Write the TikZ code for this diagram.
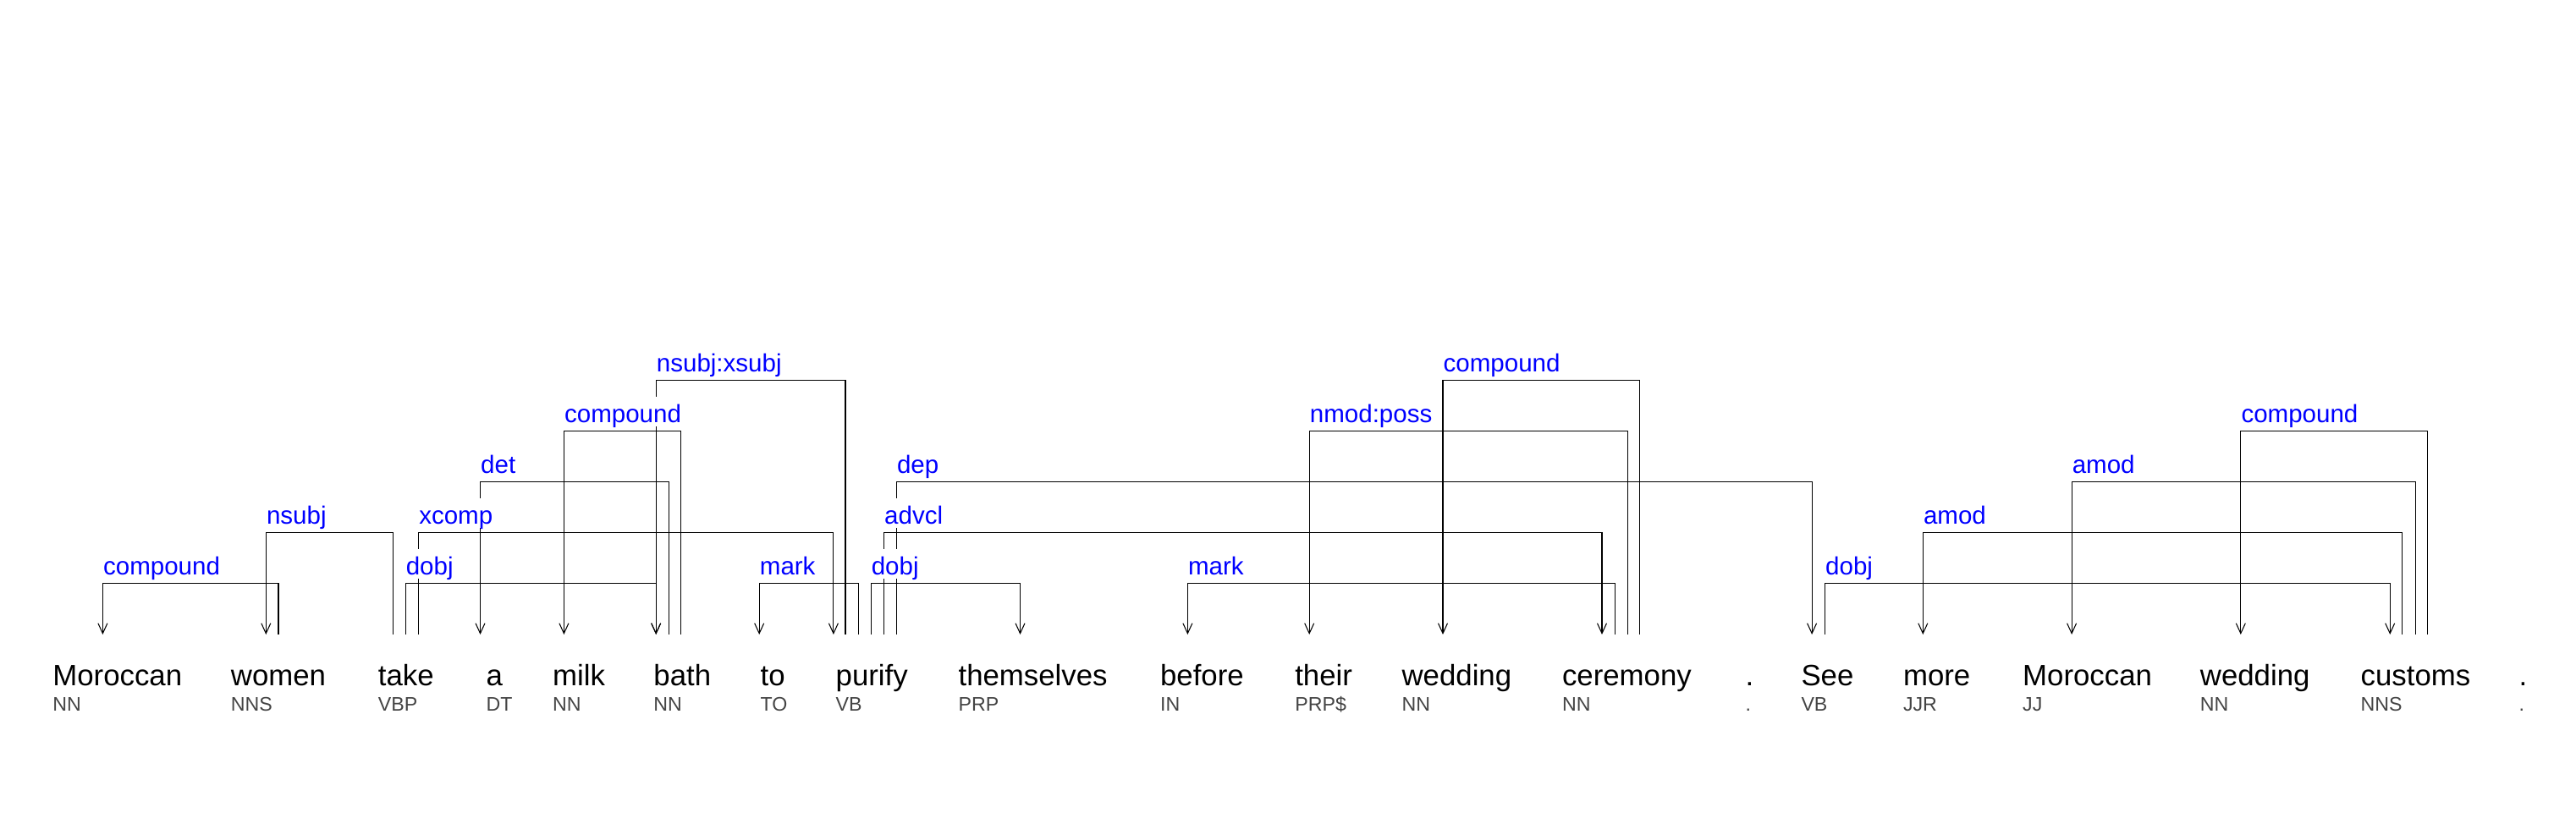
\documentclass[tikz,border=0pt]{standalone}
\usepackage{fontspec}
\setmainfont{Liberation Sans}
\usetikzlibrary{arrows.meta}

\definecolor{taggray}{HTML}{444444}
\definecolor{relblue}{HTML}{0000FF}

\begin{document}
\begin{tikzpicture}[
        >={Straight Barb[length=1.2mm, width=1.1mm]},
        token/.style={anchor=base west, inner sep=0pt, text height=5.93mm, font=\fontsize{9.9}{12}\selectfont},
        postag/.style={anchor=base west, inner sep=0pt, text=taggray, font=\fontsize{6.6}{8}\selectfont},
        rel/.style={anchor=base west, yshift=1mm, inner sep=0pt, text height=3mm, text depth=0.5mm, fill=white, text=relblue, font=\fontsize{8.4}{10}\selectfont},
        deparc/.style={->, line width=0.3pt}
    ]
    \useasboundingbox (0,0) rectangle (30.44,9.6);

    % sentence
    \node[token] (w1) at (0.617,1.5) {Moroccan};
    \node[token] (w2) at (2.722,1.5) {women};
    \node[token] (w3) at (4.462,1.5) {take};
    \node[token] (w4) at (5.738,1.5) {a};
    \node[token] (w5) at (6.524,1.5) {milk};
    \node[token] (w6) at (7.717,1.5) {bath};
    \node[token] (w7) at (8.979,1.5) {to};
    \node[token] (w8) at (9.870,1.5) {purify};
    \node[token] (w9) at (11.319,1.5) {themselves};
    \node[token] (w10) at (13.704,1.5) {before};
    \node[token] (w11) at (15.296,1.5) {their};
    \node[token] (w12) at (16.559,1.5) {wedding};
    \node[token] (w13) at (18.453,1.5) {ceremony};
    \node[token] (w14) at (20.62,1.5) {.};
    \node[token] (w15) at (21.278,1.5) {See};
    \node[token] (w16) at (22.483,1.5) {more};
    \node[token] (w17) at (23.895,1.5) {Moroccan};
    \node[token] (w18) at (25.992,1.5) {wedding};
    \node[token] (w19) at (27.89,1.5) {customs};
    \node[token] (w20) at (29.76,1.5) {.};

    % part of speech
    \node[postag] (t1) at ([yshift=-3mm]w1.base west) {NN};
    \node[postag] (t2) at ([yshift=-3mm]w2.base west) {NNS};
    \node[postag] (t3) at ([yshift=-3mm]w3.base west) {VBP};
    \node[postag] (t4) at ([yshift=-3mm]w4.base west) {DT};
    \node[postag] (t5) at ([yshift=-3mm]w5.base west) {NN};
    \node[postag] (t6) at ([yshift=-3mm]w6.base west) {NN};
    \node[postag] (t7) at ([yshift=-3mm]w7.base west) {TO};
    \node[postag] (t8) at ([yshift=-3mm]w8.base west) {VB};
    \node[postag] (t9) at ([yshift=-3mm]w9.base west) {PRP};
    \node[postag] (t10) at ([yshift=-3mm]w10.base west) {IN};
    \node[postag] (t11) at ([yshift=-3mm]w11.base west) {PRP\$};
    \node[postag] (t12) at ([yshift=-3mm]w12.base west) {NN};
    \node[postag] (t13) at ([yshift=-3mm]w13.base west) {NN};
    \node[postag] (t14) at ([yshift=-3mm]w14.base west) {.};
    \node[postag] (t15) at ([yshift=-3mm]w15.base west) {VB};
    \node[postag] (t16) at ([yshift=-3mm]w16.base west) {JJR};
    \node[postag] (t17) at ([yshift=-3mm]w17.base west) {JJ};
    \node[postag] (t18) at ([yshift=-3mm]w18.base west) {NN};
    \node[postag] (t19) at ([yshift=-3mm]w19.base west) {NNS};
    \node[postag] (t20) at ([yshift=-3mm]w20.base west) {.};

    % level 1
    \draw[deparc] ([xshift=5.68mm]w2.north west) -- ++(0,6.07mm) -| coordinate[pos=0.5] (c1) ([xshift=5.97mm]w1.north west);
    \draw[deparc] ([xshift=3.29mm]w3.north west) -- ++(0,6.07mm) coordinate (c2) -| ([xshift=0.35mm]w6.north west);
    \draw[deparc] ([xshift=2.74mm]w8.north west) -- ++(0,6.07mm) -| coordinate[pos=0.5] (c3) ([xshift=-0.07mm]w7.north west);
    \draw[deparc] ([xshift=4.21mm]w8.north west) -- ++(0,6.07mm) coordinate (c4) -| ([xshift=7.36mm]w9.north west);
    \draw[deparc] ([xshift=6.32mm]w13.north west) -- ++(0,6.07mm) -| coordinate[pos=0.5] (c5) ([xshift=3.30mm]w10.north west);
    \draw[deparc] ([xshift=2.87mm]w15.north west) -- ++(0,6.07mm) coordinate (c6) -| ([xshift=3.52mm]w19.north west);

    % level 2
    \draw[deparc] ([xshift=1.82mm]w3.north west) -- ++(0,12.07mm) -| coordinate[pos=0.5] (c7) ([xshift=4.21mm]w2.north west);
    \draw[deparc] ([xshift=4.84mm]w3.north west) -- ++(0,12.07mm) coordinate (c8) -| ([xshift=-0.21mm]w8.north west);
    \draw[deparc] ([xshift=5.75mm]w8.north west) -- ++(0,12.07mm) coordinate (c9) -| ([xshift=4.77mm]w13.north west);
    \draw[deparc] ([xshift=4.99mm]w19.north west) -- ++(0,12.07mm) -| coordinate[pos=0.5] (c10) ([xshift=2.40mm]w16.north west);

    % level 3
    \draw[deparc] ([xshift=1.89mm]w6.north west) -- ++(0,18.07mm) -| coordinate[pos=0.5] (c11) ([xshift=-0.63mm]w4.north west);
    \draw[deparc] ([xshift=7.23mm]w8.north west) -- ++(0,18.07mm) coordinate (c12) -| ([xshift=1.33mm]w15.north west);
    \draw[deparc] ([xshift=6.52mm]w19.north west) -- ++(0,18.07mm) -| coordinate[pos=0.5] (c13) ([xshift=5.86mm]w17.north west);

    % level 4
    \draw[deparc] ([xshift=3.29mm]w6.north west) -- ++(0,24.07mm) -| coordinate[pos=0.5] (c14) ([xshift=1.40mm]w5.north west);
    \draw[deparc] ([xshift=7.79mm]w13.north west) -- ++(0,24.07mm) -| coordinate[pos=0.5] (c15) ([xshift=1.76mm]w11.north west);
    \draw[deparc] ([xshift=7.98mm]w19.north west) -- ++(0,24.07mm) -| coordinate[pos=0.5] (c16) ([xshift=4.86mm]w18.north west);

    % level 5
    \draw[deparc] ([xshift=1.20mm]w8.north west) -- ++(0,30.07mm) -| coordinate[pos=0.5] (c17) ([xshift=0.35mm]w6.north west);
    \draw[deparc] ([xshift=9.26mm]w13.north west) -- ++(0,30.07mm) -| coordinate[pos=0.5] (c18) ([xshift=4.91mm]w12.north west);

    % relation labels on top
    \node[rel] (r1) at (c1) {compound};
    \node[rel] (r2) at (c2) {dobj};
    \node[rel] (r3) at (c3) {mark};
    \node[rel] (r4) at (c4) {dobj};
    \node[rel] (r5) at (c5) {mark};
    \node[rel] (r6) at (c6) {dobj};
    \node[rel] (r7) at (c7) {nsubj};
    \node[rel] (r8) at (c8) {xcomp};
    \node[rel] (r9) at (c9) {advcl};
    \node[rel] (r10) at (c10) {amod};
    \node[rel] (r11) at (c11) {det};
    \node[rel] (r12) at (c12) {dep};
    \node[rel] (r13) at (c13) {amod};
    \node[rel] (r14) at (c14) {compound};
    \node[rel] (r15) at (c15) {nmod:poss};
    \node[rel] (r16) at (c16) {compound};
    \node[rel] (r17) at (c17) {nsubj:xsubj};
    \node[rel] (r18) at (c18) {compound};
\end{tikzpicture}
\end{document}
